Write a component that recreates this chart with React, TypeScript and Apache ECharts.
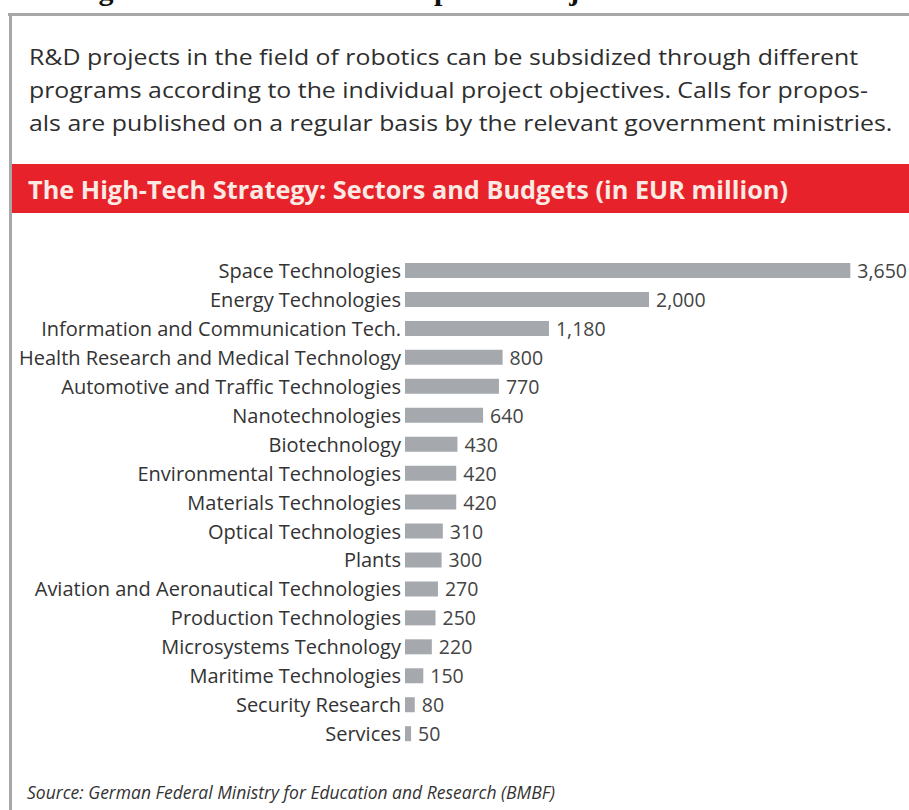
import React, { useEffect, useRef } from "react";
import * as echarts from "echarts";

const categories = [
  "Space Technologies",
  "Energy Technologies",
  "Information and Communication Tech.",
  "Health Research and Medical Technology",
  "Automotive and Traffic Technologies",
  "Nanotechnologies",
  "Biotechnology",
  "Environmental Technologies",
  "Materials Technologies",
  "Optical Technologies",
  "Plants",
  "Aviation and Aeronautical Technologies",
  "Production Technologies",
  "Microsystems Technology",
  "Maritime Technologies",
  "Security Research",
  "Services",
];

const budgets = [3650, 2000, 1180, 800, 770, 640, 430, 420, 420, 310, 300, 270, 250, 220, 150, 80, 50];

const headline = "Funding for Research and Development Projects";
const introLines = [
  "R&D projects in the field of robotics can be subsidized through different",
  "programs according to the individual project objectives. Calls for propos-",
  "als are published on a regular basis by the relevant government ministries.",
];
const bannerTitle = "The High-Tech Strategy: Sectors and Budgets (in EUR million)";
const sourceNote = "Source: German Federal Ministry for Education and Research (BMBF)";

const FONT = "'Open Sans', Roboto, sans-serif";

export default function App() {
  const ref = useRef<HTMLDivElement>(null);

  useEffect(() => {
    if (!ref.current) return;
    const chart = echarts.init(ref.current, undefined, { renderer: "svg" });
    const rowH = 28.95;
    const top = 256;
    chart.setOption({
      animation: false,
      backgroundColor: "#ffffff",
      grid: { left: 405, top, width: 488, height: rowH * categories.length, containLabel: false },
      xAxis: {
        type: "value",
        min: 0,
        max: 4000,
        show: false,
      },
      yAxis: {
        type: "category",
        inverse: true,
        data: categories,
        axisLine: { show: false },
        axisTick: { show: false },
        splitLine: { show: false },
        axisLabel: { color: "#333333", fontSize: 20, fontFamily: FONT, margin: 4 },
      },
      series: [
        {
          type: "bar",
          data: budgets,
          barWidth: 15,
          itemStyle: { color: "#a5a8ad" },
          label: {
            show: true,
            position: "right",
            distance: 7,
            color: "#444444",
            fontSize: 19.5,
            fontFamily: FONT,
            formatter: (p: any) => Number(p.value).toLocaleString("en-US"),
          },
        },
      ],
      graphic: [
        {
          type: "text",
          left: 5,
          top: -26,
          style: {
            text: headline,
            font: "bold 30px 'Liberation Serif', serif",
            fill: "#111111",
          },
        },
        { type: "rect", shape: { x: 8, y: 13, width: 901, height: 3 }, style: { fill: "#a8a8a8" } },
        { type: "rect", shape: { x: 9, y: 13, width: 3, height: 797 }, style: { fill: "#a8a8a8" } },
        ...introLines.map((t, i) => ({
          type: "text",
          x: 29,
          y: 57 + i * 32.6,
          scaleX: 1.13,
          style: {
            text: t,
            font: `22px ${FONT}`,
            fill: "#2e2e2e",
            textVerticalAlign: "middle",
          },
        })),
        { type: "rect", shape: { x: 12, y: 164, width: 897, height: 49 }, style: { fill: "#e8222a" } },
        {
          type: "text",
          x: 28,
          y: 189,
          style: {
            text: bannerTitle,
            font: `bold 25.3px ${FONT}`,
            fill: "#fbe9e4",
            textVerticalAlign: "middle",
          },
        },
        {
          type: "text",
          x: 27,
          y: 792,
          style: {
            text: sourceNote,
            font: `italic 17.5px ${FONT}`,
            fill: "#333333",
            textVerticalAlign: "middle",
          },
        },
      ],
    });
    return () => chart.dispose();
  }, []);

  return (
    <div
      ref={ref}
      style={{ position: "fixed", left: 0, top: 0, width: 909, height: 810, background: "#fff" }}
    />
  );
}
